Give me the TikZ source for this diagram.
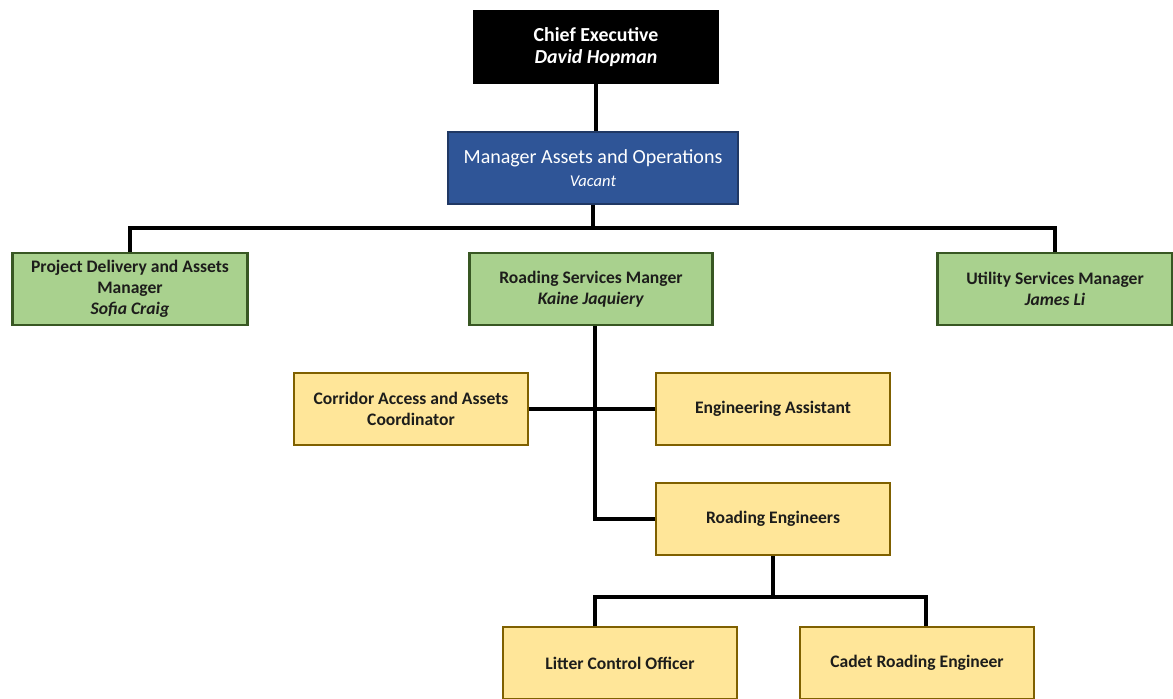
\documentclass[tikz,border=0pt]{standalone}
\usepackage{fontspec}
\setmainfont{Carlito}
\usetikzlibrary{positioning,calc}
\definecolor{colorchief}  {RGB}{  0,  0,  0}
\definecolor{colormanager}{RGB}{ 47, 85,151}
\definecolor{colormgrline}{RGB}{ 32, 56,100}
\definecolor{colorgreen}  {RGB}{169,209,142}
\definecolor{colorgrnline}{RGB}{ 56, 87, 35}
\definecolor{coloryellow} {RGB}{255,230,153}
\definecolor{coloryelline}{RGB}{127, 96,  0}
\definecolor{colortext}   {RGB}{ 29, 29, 27}

\begin{document}
\begin{tikzpicture}[
    x=0.02cm, y=-0.02cm,
    base/.style={rectangle,inner sep=2pt,align=center,line width=1.2pt,
                 minimum height=1.43cm,font={\fontsize{10}{12}\selectfont\bfseries}},
    chief/.style={base,fill=colorchief,draw=black,text=white,minimum width=4.86cm,
                  font={\fontsize{11.3}{12.5}\selectfont\bfseries}},
    manager/.style={base,fill=colormanager,draw=colormgrline,text=white,minimum width=5.8cm,
                    font={\fontsize{11.4}{13}\selectfont}},
    section/.style={base,fill=colorgreen,draw=colorgrnline,text=colortext,minimum width=4.7cm},
    staff/.style={base,fill=coloryellow,draw=coloryelline,text=colortext,minimum width=4.68cm},
    link/.style={line width=1.9pt,draw=black},
]
    \useasboundingbox (0,0) rectangle (1173,698);

    \node[chief]   (chief)   at (596,47)  {Chief Executive\\\textit{David Hopman}};
    \node[manager] (manager) at (593,168) {Manager Assets and Operations\\{\fontsize{9.4}{11}\selectfont\itshape Vacant}};

    \node[section] (project) at (130,289)  {Project Delivery and Assets\\Manager\\\textit{Sofia Craig}};
    \node[section,minimum width=4.86cm] (roading) at (591,289) {Roading Services Manger\\\textit{Kaine Jaquiery}};
    \node[section] (utility) at (1055,289) {Utility Services Manager\\\textit{James Li}};

    \node[staff] (corridor)  at (411,409) {Corridor Access and Assets\\Coordinator};
    \node[staff] (engasst)   at (773,409) {Engineering Assistant};
    \node[staff] (engineers) at (773,519) {Roading Engineers};
    \node[staff] (litter)    at (620,663) {Litter Control Officer};
    \node[staff] (cadet)     at (917,663) {Cadet Roading Engineer};

    % helper points for the elbows
    \coordinate (bus)   at (593,228);
    \coordinate (spine) at (595,409);
    \coordinate (split) at (773,597);
    \coordinate (drop)  at (926,597);

    \draw[link] (chief.south) -- (chief.south |- manager.north);
    \draw[link] (manager.south) -- (bus);
    \draw[link] (project.north) |- (bus) -| (utility.north);
    \draw[link] (bus) -- (bus -| roading.north);

    \draw[link] (roading.south -| spine) |- (engineers.west);
    \draw[link] (corridor.east) -- (engasst.west);

    \draw[link] (engineers.south) -- (split);
    \draw[link] (litter.north -| spine) |- (split) -| (drop |- cadet.north);
\end{tikzpicture}
\end{document}
